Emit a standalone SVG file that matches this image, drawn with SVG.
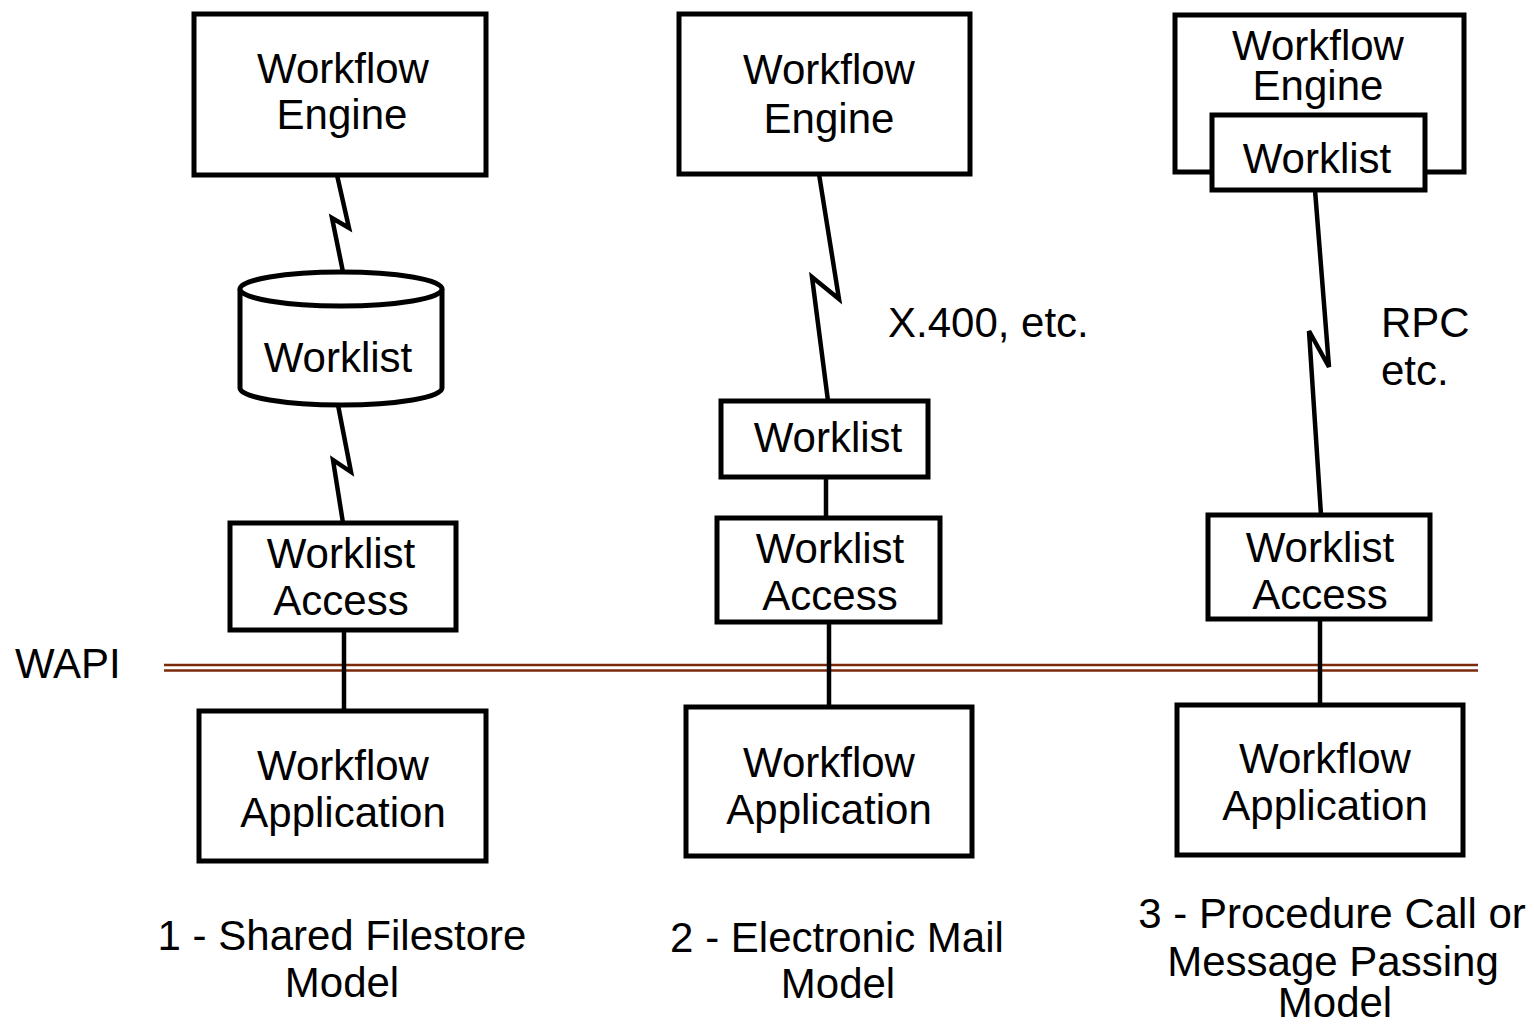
<svg xmlns="http://www.w3.org/2000/svg" width="1534" height="1024" viewBox="0 0 1534 1024">
<style>
.box{fill:#fff;stroke:#000;stroke-width:5}
.t{font-family:"Liberation Sans",Arial,sans-serif;font-size:42px;fill:#000;text-anchor:middle}
.l{font-family:"Liberation Sans",Arial,sans-serif;font-size:42px;fill:#000}
.c{fill:none;stroke:#000;stroke-width:4.5;stroke-linejoin:miter}
.w{fill:none;stroke:#7a2a0a;stroke-width:2.5}
</style>
<rect width="1534" height="1024" fill="#fff"/>
<g id="wapi">
<line class="w" x1="164" y1="665" x2="1478" y2="665"/>
<line class="w" x1="164" y1="670.5" x2="1478" y2="670.5"/>
<text class="l" x="15" y="678">WAPI</text>
</g>
<g id="connectors">
<path class="c" d="M337,175 L349,228 L332,218 L343,272"/>
<path class="c" d="M338,405 L351,472 L333,460 L343,523"/>
<line class="c" x1="344" y1="630" x2="344" y2="711"/>
<path class="c" d="M819,174 L839,299 L812,277 L828,401"/>
<line class="c" x1="826" y1="477" x2="826" y2="518"/>
<line class="c" x1="829" y1="622" x2="829" y2="707"/>
<path class="c" d="M1315,190 L1329,367 L1309,331 L1321,515"/>
<line class="c" x1="1320" y1="619" x2="1320" y2="705"/>
</g>
<g id="engine1">
<rect class="box" x="194" y="14" width="292" height="161"/>
<text class="t" x="343" y="83">Workflow</text>
<text class="t" x="342" y="129">Engine</text>
</g>
<g id="worklist1">
<path class="box" d="M240,289 L240,388 A101,17 0 0 0 442,388 L442,289"/>
<ellipse class="box" cx="341" cy="289" rx="101" ry="17"/>
<text class="t" x="338" y="372">Worklist</text>
</g>
<g id="access1">
<rect class="box" x="230" y="523" width="226" height="107"/>
<text class="t" x="341" y="568">Worklist</text>
<text class="t" x="341" y="615">Access</text>
</g>
<g id="app1">
<rect class="box" x="199" y="711" width="287" height="150"/>
<text class="t" x="343" y="780">Workflow</text>
<text class="t" x="343" y="827">Application</text>
</g>
<g id="caption1">
<text class="t" x="342" y="950">1 - Shared Filestore</text>
<text class="t" x="342" y="997">Model</text>
</g>
<g id="engine2">
<rect class="box" x="679" y="14" width="291" height="160"/>
<text class="t" x="829" y="84">Workflow</text>
<text class="t" x="829" y="133">Engine</text>
</g>
<text class="l" x="888" y="337">X.400, etc.</text>
<g id="worklist2">
<rect class="box" x="721" y="401" width="207" height="76"/>
<text class="t" x="828" y="452">Worklist</text>
</g>
<g id="access2">
<rect class="box" x="717" y="518" width="223" height="104"/>
<text class="t" x="830" y="563">Worklist</text>
<text class="t" x="830" y="610">Access</text>
</g>
<g id="app2">
<rect class="box" x="686" y="707" width="286" height="149"/>
<text class="t" x="829" y="777">Workflow</text>
<text class="t" x="829" y="824">Application</text>
</g>
<g id="caption2">
<text class="t" x="837" y="952">2 - Electronic Mail</text>
<text class="t" x="838" y="998">Model</text>
</g>
<g id="engine3">
<rect class="box" x="1175" y="15" width="289" height="157"/>
<text class="t" x="1318" y="60">Workflow</text>
<text class="t" x="1318" y="100">Engine</text>
</g>
<g id="worklist3">
<rect class="box" x="1212" y="115" width="213" height="75"/>
<text class="t" x="1317" y="173">Worklist</text>
</g>
<text class="l" x="1381" y="337">RPC</text>
<text class="l" x="1381" y="385">etc.</text>
<g id="access3">
<rect class="box" x="1208" y="515" width="222" height="104"/>
<text class="t" x="1320" y="562">Worklist</text>
<text class="t" x="1320" y="609">Access</text>
</g>
<g id="app3">
<rect class="box" x="1177" y="705" width="286" height="150"/>
<text class="t" x="1325" y="773">Workflow</text>
<text class="t" x="1325" y="820">Application</text>
</g>
<g id="caption3">
<text class="t" x="1332" y="928">3 - Procedure Call or</text>
<text class="t" x="1333" y="976">Message Passing</text>
<text class="t" x="1335" y="1017">Model</text>
</g>
</svg>
